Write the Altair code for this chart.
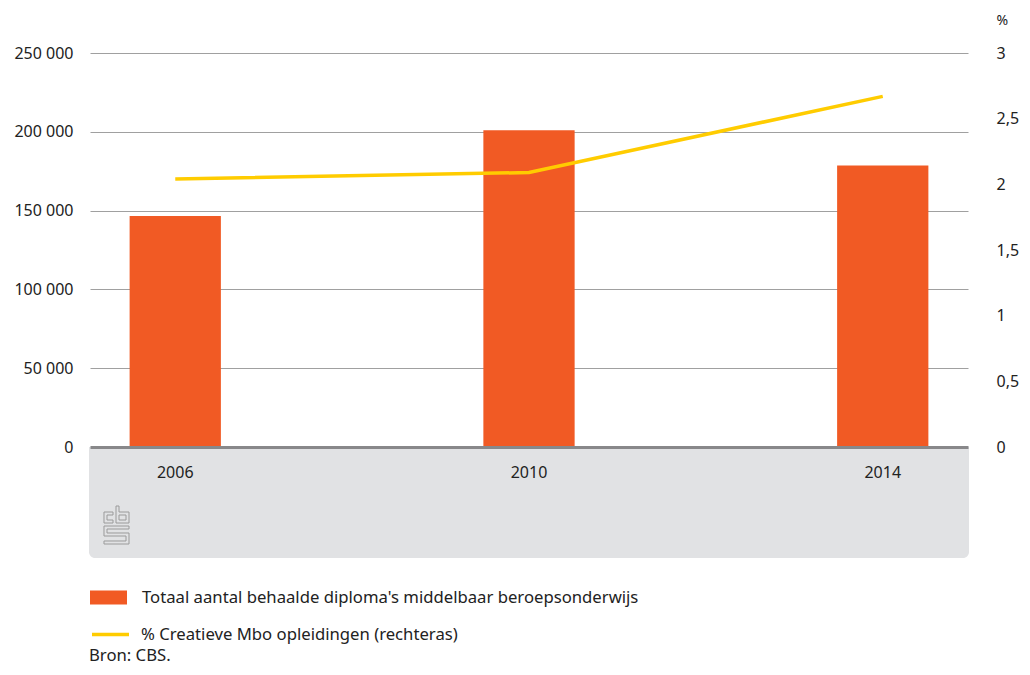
import altair as alt
import pandas as pd

years = ["2006", "2010", "2014"]
diplomas = [146500, 201000, 178600]
pct_creative = [2.04, 2.09, 2.67]

bar_label = "Totaal aantal behaalde diploma's middelbaar beroepsonderwijs"
line_label = "% Creatieve Mbo opleidingen (rechteras)"
source_text = "Bron: CBS."

df = pd.DataFrame({
    "jaar": years,
    "diplomas": diplomas,
    "pct": pct_creative,
    "reeks1": [bar_label] * 3,
    "reeks2": [line_label] * 3,
})

W, H = 878, 394
FONT = "Noto Sans"
TXT = "#222222"
ORANGE = "#f15a24"
YELLOW = "#ffcc00"
FS = 16
LFS = 16.7

base = alt.Chart(df)

x_enc = alt.X(
    "jaar:N",
    sort=years,
    scale=alt.Scale(paddingInner=0.742, paddingOuter=0.112),
    axis=alt.Axis(
        title=None, labelAngle=0, ticks=False, domainColor="#88888a",
        domainWidth=3, labelPadding=17, labelFontSize=FS, labelColor=TXT,
        labelFont=FONT, zindex=2, grid=False,
    ),
)

box = alt.Chart(alt.Data(values=[{}])).mark_rect(
    color="#e1e2e4", cornerRadiusBottomLeft=6, cornerRadiusBottomRight=6
).encode(
    x=alt.value(-1), x2=alt.value(W + 1), y=alt.value(H), y2=alt.value(H + 111)
)

logo_path = (
    "M-0.184,-0.684L-0.658,-0.684L-0.658,-0.105L-0.184,-0.105L-0.184,-0.263"
    "L-0.5,-0.263L-0.5,-0.526L-0.184,-0.526Z"
    "M-0.026,-1L0.132,-1L0.132,-0.684L0.658,-0.684L0.658,-0.105L-0.026,-0.105Z"
    "M0.132,-0.526L0.5,-0.526L0.5,-0.263L0.132,-0.263Z"
    "M0.658,0.053L-0.658,0.053L-0.658,0.579L0.5,0.579L0.5,0.842L-0.658,0.842"
    "L-0.658,1L0.658,1L0.658,0.421L-0.5,0.421L-0.5,0.211L0.658,0.211Z"
)
logo = alt.Chart(alt.Data(values=[{}])).mark_point(
    shape=logo_path, filled=False, stroke="#9a9a9a", strokeWidth=1, size=1444,
    opacity=1,
).encode(x=alt.value(26.5), y=alt.value(472))

bars = base.mark_bar(color=ORANGE).encode(
    x=x_enc,
    y=alt.Y(
        "diplomas:Q",
        scale=alt.Scale(domain=[0, 250000]),
        axis=alt.Axis(
            title=None, values=[0, 50000, 100000, 150000, 200000, 250000],
            labelExpr="replace(format(datum.value, ','), /,/g, ' ')",
            domain=False, ticks=False, grid=True, gridColor="#a0a0a0",
            labelPadding=17, labelFontSize=FS, labelColor=TXT, labelFont=FONT,
        ),
    ),
    color=alt.Color(
        "reeks1:N",
        scale=alt.Scale(range=[ORANGE]),
        legend=alt.Legend(
            title=None, orient="none", legendX=0, legendY=526,
            symbolType="M-1,-0.38H1V0.38H-1Z", symbolSize=1369,
            symbolStrokeWidth=0, symbolOpacity=1, labelFontSize=LFS,
            labelColor=TXT, labelFont=FONT, labelOffset=15, padding=0,
            labelLimit=800,
        ),
    ),
)

line = base.mark_line(color=YELLOW, strokeWidth=3.5).encode(
    x=x_enc,
    y=alt.Y(
        "pct:Q",
        scale=alt.Scale(domain=[0, 3]),
        axis=alt.Axis(
            title="%", titleAngle=0, titleX=28, titleY=-33, titleAlign="left",
            titleBaseline="middle", titleFontSize=14, titleFontWeight="normal",
            titleColor=TXT, titleFont=FONT,
            values=[0, 0.5, 1, 1.5, 2, 2.5, 3],
            labelExpr="replace(toString(datum.value), '.', ',')",
            domain=False, ticks=False, grid=False, orient="right",
            labelPadding=28, labelFontSize=FS, labelColor=TXT, labelFont=FONT,
        ),
    ),
    stroke=alt.Stroke(
        "reeks2:N",
        scale=alt.Scale(range=[YELLOW]),
        legend=alt.Legend(
            title=None, orient="none", legendX=0, legendY=561,
            symbolType="stroke", symbolSize=1369, symbolStrokeWidth=3.5,
            labelFontSize=LFS, labelColor=TXT, labelFont=FONT, labelOffset=10,
            padding=0, labelLimit=800,
        ),
    ),
)

source = alt.Chart(alt.Data(values=[{}])).mark_text(
    text=source_text, align="left", baseline="middle", fontSize=LFS,
    font=FONT, color=TXT,
).encode(x=alt.value(-1), y=alt.value(603))

chart = alt.layer(box, logo, bars, line, source).resolve_scale(
    y="independent", color="independent", stroke="independent"
).properties(
    width=W, height=H, autosize=alt.AutoSizeParams(type="none"),
    padding={"left": 82, "top": 45, "right": 52, "bottom": 220},
).configure(background="white").configure_view(stroke=None)

chart.save("out.html", embed_options={"renderer": "svg", "actions": False})
